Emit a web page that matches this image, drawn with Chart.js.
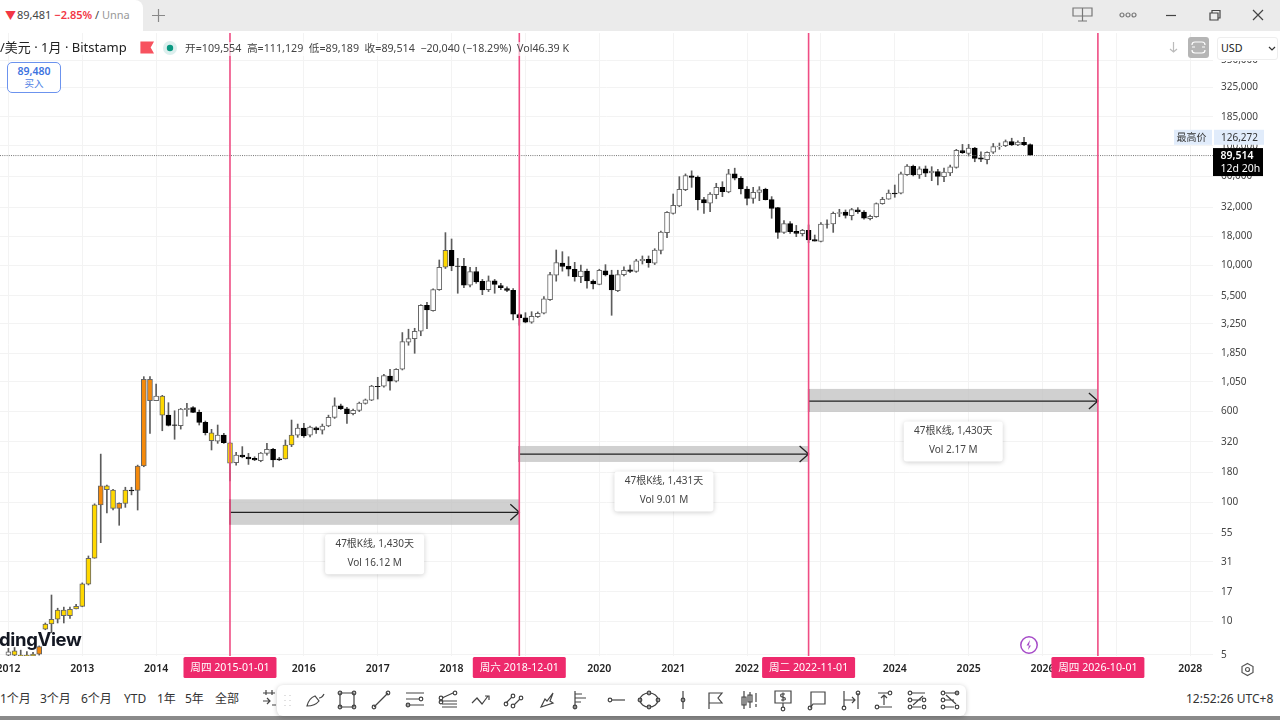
<!DOCTYPE html>
<html><head><meta charset="utf-8">
<script src="https://cdn.jsdelivr.net/npm/chart.js@4"></script>
<style>
html,body{margin:0;padding:0;background:#fff;width:1280px;height:720px;overflow:hidden}
#page{position:absolute;left:0;top:0;width:1280px;height:720px;overflow:hidden;font-family:"Noto Sans","Noto Sans CJK SC",sans-serif;color:#333;filter:blur(.35px)}
canvas{position:absolute;left:0;top:0}
.a{position:absolute;white-space:nowrap;line-height:1}
svg{position:absolute;overflow:visible}
svg *{fill:none;stroke:#444;stroke-width:1.2}
</style></head><body><div id="page">
<canvas id="c" width="1280" height="720"></canvas>

<div class="a" style="left:0;top:0;width:1280px;height:31px;background:#ebebeb"></div>
<div class="a" style="left:0;top:0;width:143px;height:31px;background:#fff;border-radius:0 8px 0 0"></div>
<div class="a" style="left:5px;top:10px;font-size:11px;color:#f23645">▼</div>
<div class="a" style="left:17px;top:9px;font-size:11px;color:#444">89,481 <span style="color:#f23645;font-weight:600">−2.85%</span> / <span style="color:#999">Unna</span></div>
<svg style="left:152px;top:9px" width="13" height="13"><path d="M6.5 0V13M0 6.5H13" style="stroke:#888"/></svg>
<svg style="left:1072px;top:7px" width="22" height="15"><path d="M1 1H20V9H1ZM10.5 1V14M6 14H15" style="stroke:#777"/></svg>
<svg style="left:1119px;top:12px" width="18" height="6"><circle cx="3" cy="3" r="2" style="stroke:#777"/><circle cx="9" cy="3" r="2" style="stroke:#777"/><circle cx="15" cy="3" r="2" style="stroke:#777"/></svg>
<svg style="left:1166px;top:15px" width="10" height="2"><path d="M0 .5H10"/></svg>
<svg style="left:1210px;top:10px" width="11" height="11"><path d="M0 3H8V10H0ZM2 3V0.5H10V8H8"/></svg>
<svg style="left:1253px;top:10px" width="10" height="10"><path d="M0 0L10 10M10 0L0 10"/></svg>

<div class="a" style="left:-4px;top:41px;font-size:13px;color:#222;background:rgba(255,255,255,.8);padding:0 3px 1px 4px">/美元 · 1月 · Bitstamp</div>
<svg style="left:141px;top:42px" width="12" height="11"><path d="M0 0H12L9 5.5L12 11H0Z" style="fill:#f7525f;stroke:#f7525f"/></svg>
<svg style="left:163px;top:41px" width="14" height="14"><circle cx="7" cy="7" r="7" style="fill:#dcefee;stroke:none"/><circle cx="7" cy="7" r="3.2" style="fill:#089981;stroke:none"/></svg>
<div class="a" style="left:185px;top:42px;font-size:10.7px;color:#444;background:rgba(255,255,255,.62);padding:1px 0 2px">开=109,554&nbsp; 高=111,129&nbsp; 低=89,189&nbsp; 收=89,514&nbsp; −20,040 (−18.29%)&nbsp; Vol46.39 K</div>
<div class="a" style="left:7px;top:62px;width:52px;height:29px;border:1px solid #6c93ee;border-radius:5px;background:#fff;text-align:center;box-sizing:content-box">
  <div style="font-size:10.5px;font-weight:600;color:#3d72e0;margin-top:3px">89,480</div>
  <div style="font-size:9.5px;color:#4f7fe4;margin-top:2px">买入</div>
</div>
<svg style="left:1169px;top:42px" width="9" height="11"><path d="M4.5 0V10M1 7L4.5 10L8 7" style="stroke:#bbb"/></svg>
<div class="a" style="left:1188px;top:37px;width:21px;height:21px;background:#b5b5b5;border-radius:3px"></div>
<svg style="left:1192px;top:42px" width="13" height="11"><path d="M0 3Q0 0 3 0H10Q13 0 13 3M0 8Q0 11 3 11H10Q13 11 13 8M0 5H3M10 5H13" style="stroke:#fff"/></svg>
<div class="a" style="left:1217px;top:32px;width:63px;height:29px;background:#fff"></div>
<div class="a" style="left:1217px;top:37px;width:59px;height:21px;border:1px solid #eee;border-radius:3px;background:#fff;font-size:10.7px;line-height:21px;text-indent:3px;color:#222">USD</div>
<svg style="left:1269px;top:47px" width="6" height="4"><path d="M0 0L3 3L6 0" style="stroke:#333"/></svg>

<div class="a" style="left:-1px;top:628px;font:700 18.5px Inter,'Open Sans',sans-serif;letter-spacing:-.35px;color:#131722">dingView</div>
<svg style="left:1020px;top:636px" width="18" height="18"><circle cx="9" cy="9" r="8.2" style="stroke:#a64bc8;stroke-width:1.5"/><path d="M10 4L6.5 9.5H11L8 14Z" style="fill:#a64bc8;stroke:none"/></svg>
<svg style="left:1241px;top:663px" width="13" height="13"><path d="M6.5 .5L12 3.5V9.5L6.5 12.5L1 9.5V3.5Z" style="stroke:#555"/><circle cx="6.5" cy="6.5" r="2" style="stroke:#555"/></svg>

<div class="a" style="left:0;top:680px;width:1280px;height:36px;background:#fff"></div>
<div class="a" style="left:0;top:716px;width:1280px;height:4px;background:#8a8a8a"></div>
<div class="a" id="r1" style="left:0;top:693px;font-size:12px;color:#333"></div>
<div class="a" style="left:1186px;top:693px;font-size:12px;color:#333">12:52:26 UTC+8</div>
<svg style="left:262px;top:690px" width="14" height="18"><path d="M1 3H13M4 0V5M10 0V5M1 11H8M5 8L8 11L5 14M10 15H14"/></svg>
<div class="a" style="left:277px;top:685px;width:689px;height:31px;background:#fff;border-radius:6px;box-shadow:0 1px 5px rgba(0,0,0,.22)"></div>
<svg style="left:284px;top:694px" width="7" height="14"><g style="stroke:#ccc"><path d="M1 1V2M1 6V7M1 11V12M6 1V2M6 6V7M6 11V12" style="stroke:#ccc"/></g></svg>
<div id="tools"></div>
</div>
<script>
// ---- data ----
const firstMonth = '2012-01';
const opens = [5.7,5.7,5.6,5.6,5.6,5.8,9.4,10.4,11.4,12.2,12.2,13.9,
14.6,22.4,37,104,150,138,97,107,138,137,220,1176,
778,851,588,487,480,655,680,620,512,417,356,401,
345,235,272,262,255,244,281,304,253,252,330,399,
458,399,460,439,477,564,705,665,604,645,738,787,
1025,1027,1254,1132,1427,2407,2579,2974,4912,4430,6650,10240,
14210,10500,10450,7240,9440,7800,6650,7900,7180,6770,6560,4100,
3850,3550,3940,4210,5470,8780,11120,10430,9860,8550,9500,7860,
7360,9580,8830,6510,8890,9770,9440,11620,11950,11060,14210,19970,
29050,33500,45800,60000,58400,37800,35300,41700,48000,43900,62200,57200,
46500,38800,43600,46200,37800,32400,20100,23800,20500,19600,20900,17450,
16900,23650,23650,29050,29800,27740,31000,29800,26200,27200,35000,38100,
43000,42800,61300,72000,61000,68500,63400,65000,59000,63400,70500,97500,
92300,102600,85000,82000,94500,105400,107300,116000,108800,114500,109554];
const highs = [6.5,6.6,6.27,6.1,6,6.8,10.6,18.2,14.1,14.4,14.4,15.2,
23,38.7,106,277,152,140,108,146,146,224,1237,1237,
1074,862,748,640,670,738,693,650,525,447,486,414,
346,286,320,281,263,286,341,310,260,364,535,495,
502,477,470,495,588,822,728,683,661,757,803,1047,
1222,1296,1427,1443,2900,3093,3150,4970,5210,6740,11790,20000,
17690,12180,12180,10240,10240,8100,8660,8100,7510,7030,6770,4200,
4260,4340,4320,5810,9290,14300,13840,12560,11270,10700,9910,8020,
9860,10770,9670,9670,10350,10700,11950,12740,12740,14660,20640,30000,
42200,59000,62200,66000,59800,39600,43300,51900,53500,68000,69500,59000,
48600,48000,48600,47200,40100,32600,25200,24800,23000,21300,23200,19100,
24250,25560,29800,31400,31000,31960,32400,30560,28100,35500,39600,45600,
50200,64500,74500,73800,71500,72500,71500,68000,69500,73800,100000,110000,
110000,104000,95400,95500,112000,113000,119900,124000,118000,126272,111129];
const lows = [5.6,5.6,5.6,5.6,5.6,5.7,9.3,8.8,10.6,10.6,11.6,13.9,
14.5,22.1,37,50,89,94,70,99,126,94,217,414,
778,435,477,369,449,577,616,486,401,300,341,341,
165,224,258,227,244,239,272,216,244,252,320,383,
383,387,414,408,470,552,655,502,592,630,728,778,
803,1008,955,1116,1408,2270,1943,2728,3120,4380,6560,10000,
9580,6200,6900,7000,7510,6030,6400,6200,6650,6400,3700,3340,
3500,3470,3880,4150,5410,7830,9500,8660,7830,7600,6830,6740,
7300,8660,4050,6400,8660,9230,9290,10900,10240,10800,13230,18140,
28600,33000,45000,48000,31000,29000,30000,38500,40100,43200,55400,42200,
34100,35300,37100,37600,26400,17900,19700,19700,18500,18750,16470,17000,
16700,21750,20100,27200,26500,25560,29050,25900,25560,26900,34600,38100,
39600,42200,60500,59800,57000,59000,54600,50200,53500,60200,69500,92300,
88000,78700,78700,75500,92300,100000,105400,107300,107300,107500,89189];
const closes = [6.06,6.2,5.7,5.7,5.8,6.72,10.4,11.4,13.6,13.6,13.8,14.6,
22.6,37,104,150,139,97,107,138,136,220,1176,778,
851,588,483,483,661,670,620,512,419,359,401,345,
232,272,262,252,247,283,304,247,247,330,401,458,
393,467,443,477,564,705,665,604,645,743,792,1033,
1019,1261,1132,1427,2432,2579,2974,4912,4490,6650,10240,14210,
10500,10430,7240,9440,7700,6610,7900,7360,6900,6560,4130,3870,
3550,3970,4210,5560,8890,11190,10430,9860,8550,9500,7860,7420,
9670,8830,6610,8890,9670,9440,11620,11950,11190,14300,20170,29600,
33900,46200,60100,58200,37800,35500,42200,48000,44200,62200,57200,46500,
38800,43600,45800,37800,32000,20100,23800,20400,19700,20900,17340,17000,
23650,23500,29050,29400,27950,31150,30000,26400,27400,35000,38100,43000,
42300,62200,72500,61000,68500,63000,65800,59300,64400,71500,98200,93600,
102600,84000,82900,94500,105400,106700,116000,108800,115000,109554,89514];
const yellowMonths = [1,2,3,4,6,7,8,9,10,11,12,13,14,16,17,19,25,33,36,45,46,71];
const orangeMonths = [5,15,18,21,22,23];
const yearTicks = [2012,2013,2014,2015,2016,2017,2018,2019,2020,2021,2022,2023,2024,2025,2026,2027,2028];
const priceTickValues = [5.71,11,19.3,34.5,60.3,108.7,196,350,637,1116,1954,3423,5879,10700,18740,32800,59700,106700,186900,333000,562000];
const priceTickLabels = ['5','10','17','31','55','100','180','320','600','1,050','1,850','3,250','5,500','10,000','18,000','32,000','60,000','100,000','185,000','325,000','550,000'];
const markerDates = ['2015-01-01','2018-12-01','2022-11-01','2026-10-01'];
const markerLabels = ['周四 2015-01-01','周六 2018-12-01','周二 2022-11-01','周四 2026-10-01'];
const rangeTop = [115.6,324,976];
const rangeMid = [90,277,772];
const rangeBottom = [70.6,238,625];
const rangeBars = ['47根K线, 1,430天','47根K线, 1,431天','47根K线, 1,430天'];
const rangeVols = ['Vol 16.12 M','Vol 9.01 M','Vol 2.17 M'];
const lastPrice = 89514, highestPrice = 126272;
const periods = ['1个月','3个月','6个月','YTD','1年','5年','全部'];

// ---- helpers ----
const monthOf = s => { const [y,m] = s.split('-').map(Number); const [y0,m0] = firstMonth.split('-').map(Number); return (y-y0)*12+(m-m0); };
const markerMonths = markerDates.map(monthOf);
const yellow = new Set(yellowMonths), orange = new Set(orangeMonths);
const fillFor = i => orange.has(i) ? '#f58a0b' : yellow.has(i) ? '#ffd800' : (closes[i] >= opens[i] ? '#ffffff' : '#000000');
const edgeFor = i => (!orange.has(i) && !yellow.has(i) && closes[i] < opens[i]) ? '#000000' : '#666666';
const PINK = '#ee2a6c', LINE = '#ef4d84';
const font = 'Noto Sans, Noto Sans CJK SC, sans-serif';

const overlay = {
  id:'overlay',
  afterDatasetsDraw(ch){
    const {ctx, chartArea:a, scales:{x,y}} = ch;
    ctx.save();
    // last-price dotted line
    const py = y.getPixelForValue(lastPrice);
    ctx.strokeStyle = '#777'; ctx.lineWidth = 1; ctx.setLineDash([1,1.2]);
    ctx.beginPath(); ctx.moveTo(a.left,py+.5); ctx.lineTo(a.right,py+.5); ctx.stroke();
    ctx.setLineDash([]);
    // range boxes
    rangeMid.forEach((mid,k)=>{
      const x0 = x.getPixelForValue(markerMonths[k]), x1 = x.getPixelForValue(markerMonths[k+1]);
      const yt = y.getPixelForValue(rangeTop[k]), yb = y.getPixelForValue(rangeBottom[k]), ym = y.getPixelForValue(mid);
      ctx.fillStyle = 'rgba(190,190,190,.72)'; ctx.fillRect(x0,yt,x1-x0,yb-yt);
      ctx.strokeStyle = '#222'; ctx.lineWidth = 1.3;
      ctx.beginPath();
      ctx.moveTo(x0,yt); ctx.lineTo(x0,yb);
      ctx.moveTo(x0,ym); ctx.lineTo(x1,ym);
      ctx.moveTo(x1-9,ym-8); ctx.lineTo(x1,ym); ctx.lineTo(x1-9,ym+8);
      ctx.stroke();
      // label card
      const cx = (x0+x1)/2, w = 99, h = 40, top = yb+9.5;
      ctx.save();
      ctx.shadowColor='rgba(0,0,0,.2)'; ctx.shadowBlur=5; ctx.shadowOffsetY=1;
      ctx.fillStyle='#fff'; ctx.beginPath(); ctx.roundRect(cx-w/2,top,w,h,3); ctx.fill();
      ctx.restore();
      ctx.fillStyle='#444'; ctx.font='10px '+font; ctx.textAlign='center'; ctx.textBaseline='middle';
      ctx.fillText(rangeBars[k],cx,top+10);
      ctx.fillText(rangeVols[k],cx,top+28.5);
    });
    // vertical markers
    markerMonths.forEach(m=>{
      const px = x.getPixelForValue(m);
      ctx.strokeStyle = LINE; ctx.lineWidth = 1.6;
      ctx.beginPath(); ctx.moveTo(px,a.top); ctx.lineTo(px,a.bottom); ctx.stroke();
    });
    ctx.restore();
  },
  afterDraw(ch){
    const {ctx, chartArea:a, scales:{x,y}} = ch;
    ctx.save();
    ctx.textBaseline='middle';
    // date tags on the time axis
    markerMonths.forEach((m,k)=>{
      const px = x.getPixelForValue(m);
      ctx.fillStyle = PINK; ctx.beginPath(); ctx.roundRect(px-46.5,a.bottom+1,93,21,1.5); ctx.fill();
      ctx.fillStyle='#fff'; ctx.font='10.6px '+font; ctx.textAlign='center';
      ctx.fillText(markerLabels[k],px,a.bottom+12);
    });
    // highest price labels
    const hy = y.getPixelForValue(highestPrice);
    ctx.fillStyle='#e1ecfb';
    ctx.fillRect(a.right-39,hy-7.5,38,15);
    ctx.fillRect(a.right+1,hy-7.5,50,15);
    ctx.fillStyle='#333'; ctx.textAlign='left'; ctx.font='10px '+font;
    ctx.fillText('最高价',a.right-36.5,hy+.5);
    ctx.fillText(highestPrice.toLocaleString('en-US'),a.right+8,hy+.5);
    // last price label
    const py = y.getPixelForValue(lastPrice);
    ctx.fillStyle='#000'; ctx.fillRect(a.right,py-7,50,28);
    ctx.fillStyle='#fff'; ctx.font='600 10.5px '+font;
    ctx.fillText(lastPrice.toLocaleString('en-US'),a.right+7.5,py+.5);
    ctx.font='10.5px '+font;
    ctx.fillText('12d 20h',a.right+7.5,py+14);
    ctx.restore();
  }
};

new Chart(document.getElementById('c'),{
  type:'bar',
  data:{datasets:[
    {label:'body',order:0,data:opens.map((o,i)=>({x:i,y:[o,closes[i]]})),
     backgroundColor:opens.map((_,i)=>fillFor(i)),borderColor:opens.map((_,i)=>edgeFor(i)),
     borderWidth:1,borderSkipped:false,barThickness:5,grouped:false},
    {label:'wick',order:1,data:lows.map((l,i)=>({x:i,y:[l,highs[i]]})),
     backgroundColor:'#5c5c5c',borderWidth:0,borderSkipped:false,barThickness:1,grouped:false}
  ]},
  options:{
    responsive:false,animation:false,devicePixelRatio:1,
    layout:{padding:{top:33,left:0,right:0,bottom:0}},
    plugins:{legend:{display:false},tooltip:{enabled:false}},
    events:[],
    scales:{
      x:{type:'linear',offset:false,bounds:'data',min:-1.365,max:195.7,
        grid:{color:'#f3f3f3',offset:false,drawTicks:false},border:{display:false},
        afterBuildTicks(s){s.ticks = yearTicks.map(y=>({value:(y-2012)*12}));},
        afterFit(s){s.height=64;s.paddingLeft=0;s.paddingRight=0;},
        ticks:{autoSkip:false,maxRotation:0,minRotation:0,padding:7,color:'#222',
          font:{family:font,size:10.5,weight:'600'},
          callback:(v)=>String(2012+v/12)}},
      y:{type:'logarithmic',position:'right',bounds:'data',min:5.6,max:947000,
        grid:{color:'#f3f3f3',drawTicks:false},border:{display:false},
        afterBuildTicks(s){s.ticks = priceTickValues.map(v=>({value:v}));},
        afterFit(s){s.width=67;s.paddingTop=0;s.paddingBottom=0;},
        ticks:{autoSkip:false,padding:8,color:'#444',crossAlign:'near',align:'center',
          font:{family:font,size:10},
          callback:(v,i)=>priceTickLabels[i]}}
    }
  },
  plugins:[overlay]
});

// ---- bottom bar ----
const periodLeft = [0,40,81,124,157,185,215];
const r1 = document.getElementById('r1');
periods.forEach((p,i)=>{const s=document.createElement('span');s.textContent=p;s.style.position='absolute';s.style.left=periodLeft[i]+'px';r1.appendChild(s);});
const dot=(x,y)=>`<circle cx="${x}" cy="${y}" r="1.8"/>`;
const tools=[
 [316,'<path d="M1 16Q3 8 9 6L13 11Q9 16 1 16ZM13 8Q16 8 18 4"/>'],
 [347,'<path d="M3 3H17V17H3Z"/>'+dot(3,3)+dot(17,3)+dot(3,17)+dot(17,17)],
 [381,'<path d="M3 17L17 3"/>'+dot(3,17)+dot(17,3)],
 [415,'<path d="M1 3H19M1 9H14M1 15H19"/>'+dot(16,9)+dot(3,15)],
 [448,'<path d="M4 8L15 3M2 11H19M4 14H19M4 17H19"/>'+dot(17,3)+dot(3,8)+dot(3,12)],
 [481,'<path d="M1 13L6 8L11 14L17 6M14 6H18V10"/>'],
 [514,'<path d="M2 13L8 7M10 15L16 9"/>'+dot(2,14)+dot(9,6)+dot(9,16)+dot(17,8)],
 [548,'<path d="M3 17L7 9L9 11L15 3L12 11L15 13Z"/>'],
 [582,'<path d="M3 1V19M3 4H10M3 8H14M3 12H9"/>'+dot(3,17)],
 [616,'<path d="M6 10H19"/>'+dot(4,10)],
 [649,'<ellipse cx="10" cy="10" rx="9" ry="7"/>'+dot(1,10)+dot(19,10)+dot(10,3)+dot(10,17)],
 [683,'<path d="M10 1V19"/>'+dot(10,10)],
 [716,'<path d="M3 19V3H16L12 8L16 13H3"/>'],
 [750,'<path d="M4 1V19M10 2V18M16 3V12M16 14V17M2 7H6V15H2ZM8 5H12V12H8Z"/>'],
 [783,'<path d="M2 1H18V13H2ZM10 13V17"/>'+dot(10,19)+'<path d="M12 4H9Q7 4 8 6.5L12 8Q13 10 11 10H8M10 2.5V11.5"/>'],
 [817,'<path d="M4 2H18V14H6L4 17Z"/>'+dot(3,18)],
 [851,'<path d="M3 1V17M17 3V19M3 10H14M11 7L14 10L11 13"/>'+dot(3,18)+dot(17,3)],
 [884,'<path d="M4 3H14M4 17H18M10 15V5M7 8L10 5L13 8"/>'+dot(16,3)+dot(3,17)],
 [917,'<path d="M4 3H18M4 10H14M4 17H14M6 15L16 6" />'+dot(3,3)+dot(3,10)+dot(3,17)+dot(17,10)+dot(17,17)],
 [950,'<path d="M4 3H18M4 10H14M4 17H14M6 5L16 14"/>'+dot(3,3)+dot(3,10)+dot(3,17)+dot(17,3)+dot(17,17)]
];
document.getElementById('tools').innerHTML = tools.map(([cx,p])=>`<svg viewBox="0 0 20 20" width="20" height="20" style="left:${cx-10}px;top:690px">${p}</svg>`).join('');
</script>
</body></html>
